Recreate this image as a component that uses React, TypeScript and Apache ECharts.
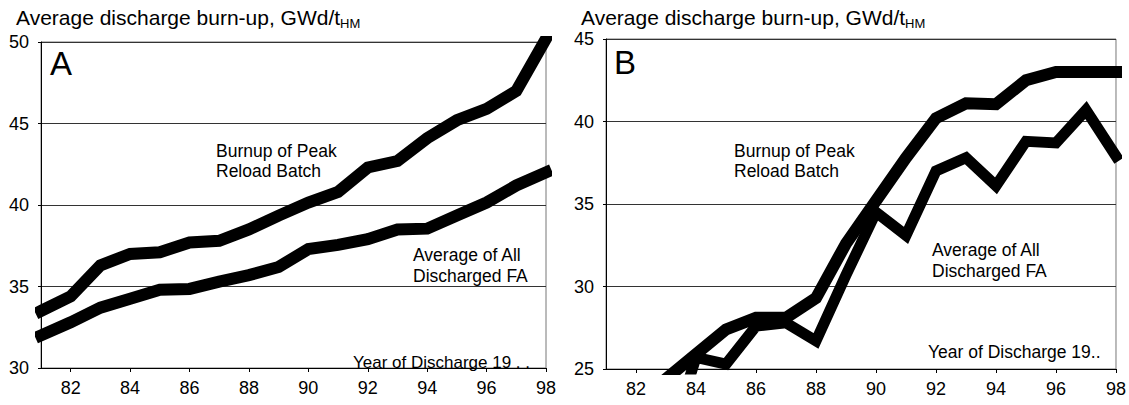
import React, { useEffect, useRef } from "react";
import * as echarts from "echarts";

const years = ["81", "82", "83", "84", "85", "86", "87", "88", "89", "90", "91", "92", "93", "94", "95", "96", "97", "98"];
const peakA = [33.5, 34.4, 36.3, 37.0, 37.1, 37.7, 37.8, 38.5, 39.35, 40.15, 40.8, 42.3, 42.7, 44.1, 45.2, 45.9, 47.0, 50.2];
const avgA = [32.0, 32.8, 33.7, 34.25, 34.8, 34.85, 35.3, 35.7, 36.2, 37.3, 37.55, 37.9, 38.5, 38.55, 39.35, 40.15, 41.2, 42.0];
const peakB = [null, null, 24.4, 25.9, 27.4, 28.1, 28.1, 29.3, 32.6, 35.2, 37.8, 40.2, 41.1, 41.05, 42.5, 43.0, 43.0, 43.0];
const avgB = [null, null, 20, 25.7, 25.3, 27.6, 27.8, 26.7, 30.7, 34.5, 33.1, 37.0, 37.8, 36.1, 38.8, 38.7, 40.7, 37.9];

const yRangeA = { min: 30, max: 50, interval: 5 };
const yRangeB = { min: 25, max: 45, interval: 5 };

const titleText = "Average discharge burn-up, GWd/t";
const titleSub = "HM";
const panelLetters = ["A", "B"];
const peakLabel = "Burnup of Peak\nReload Batch";
const avgLabel = "Average of All\nDischarged FA";
const xLabelA = "Year of Discharge 19 . .";
const xLabelB = "Year of Discharge 19..";

const FONT = 'Arial, "Liberation Sans", Helvetica, sans-serif';

export default function App() {
  const ref = useRef<HTMLDivElement>(null);
  useEffect(() => {
    if (!ref.current) return;
    const chart = echarts.init(ref.current, null, { renderer: "svg" });
    const even = (_i: number, v: string) => Number(v) % 2 === 0;
    const xAxis = (gridIndex: number) => ({
      type: "category",
      gridIndex,
      data: years,
      boundaryGap: false,
      axisLine: { show: true, lineStyle: { color: "#000", width: 1 } },
      axisTick: { show: true, length: 4, interval: even, lineStyle: { color: "#000" } },
      axisLabel: { interval: even, color: "#000", fontSize: 18, fontFamily: FONT, margin: 11 },
      splitLine: { show: false },
    });
    const yAxis = (gridIndex: number, r: any) => ({
      type: "value",
      gridIndex,
      min: r.min,
      max: r.max,
      interval: r.interval,
      axisLine: { show: true, lineStyle: { color: "#000", width: 1 } },
      axisTick: { show: true, length: 3, lineStyle: { color: "#000" } },
      axisLabel: { color: "#000", fontSize: 18, fontFamily: FONT, margin: 12 },
      splitLine: { show: true, lineStyle: { color: "#333", width: 1 } },
    });
    const line = (data: any[], xi: number, w: number) => ({
      type: "line",
      xAxisIndex: xi,
      yAxisIndex: xi,
      data,
      symbol: "none",
      connectNulls: false,
      clip: true,
      lineStyle: { color: "#000", width: w, cap: "square", join: "miter" },
    });
    const txt = (text: string, x: number, y: number, size: number, va = "top", lh = 20) => ({
      type: "text",
      x,
      y,
      silent: true,
      style: {
        text,
        fill: "#000",
        font: `${size}px ${FONT}`,
        fontSize: size,
        fontFamily: FONT,
        lineHeight: lh,
        align: "left",
        verticalAlign: va,
      },
    });
    const title = (x: number) => ({
      type: "text",
      x,
      y: 5,
      silent: true,
      style: {
        text: `{a|${titleText}}{b|${titleSub}}`,
        fill: "#000",
        align: "left",
        verticalAlign: "top",
        rich: {
          a: { fontSize: 21, fontFamily: FONT, lineHeight: 25, fill: "#000" },
          b: { fontSize: 13, fontFamily: FONT, lineHeight: 14, verticalAlign: "bottom", fill: "#000" },
        },
      },
    });
    chart.setOption({
      animation: false,
      backgroundColor: "#fff",
      grid: [
        { left: 41, top: 42, width: 505, height: 326, show: true, borderColor: "#777", borderWidth: 1, backgroundColor: "transparent" },
        { left: 606, top: 39, width: 511, height: 330, show: true, borderColor: "#777", borderWidth: 1, backgroundColor: "transparent" },
      ],
      xAxis: [xAxis(0), xAxis(1)],
      yAxis: [yAxis(0, yRangeA), yAxis(1, yRangeB)],
      series: [line(peakA, 0, 12), line(avgA, 0, 12), line(peakB, 1, 12), line(avgB, 1, 11)],
      graphic: [
        title(16),
        title(581),
        txt(panelLetters[0], 50, 53, 33),
        txt(panelLetters[1], 614, 52, 33),
        txt(peakLabel, 216, 141, 17.5),
        txt(peakLabel, 734, 141, 17.5),
        txt(avgLabel, 413, 244, 17.5, "top", 21),
        txt(avgLabel, 932, 239, 17.5, "top", 21),
        txt(xLabelA, 353, 362, 17, "middle"),
        txt(xLabelB, 928, 352, 17.5, "middle"),
      ],
    });
    return () => chart.dispose();
  }, []);
  return (
    <div
      ref={ref}
      style={{ position: "fixed", left: 0, top: 0, width: 1129, height: 405, background: "#fff" }}
    />
  );
}
